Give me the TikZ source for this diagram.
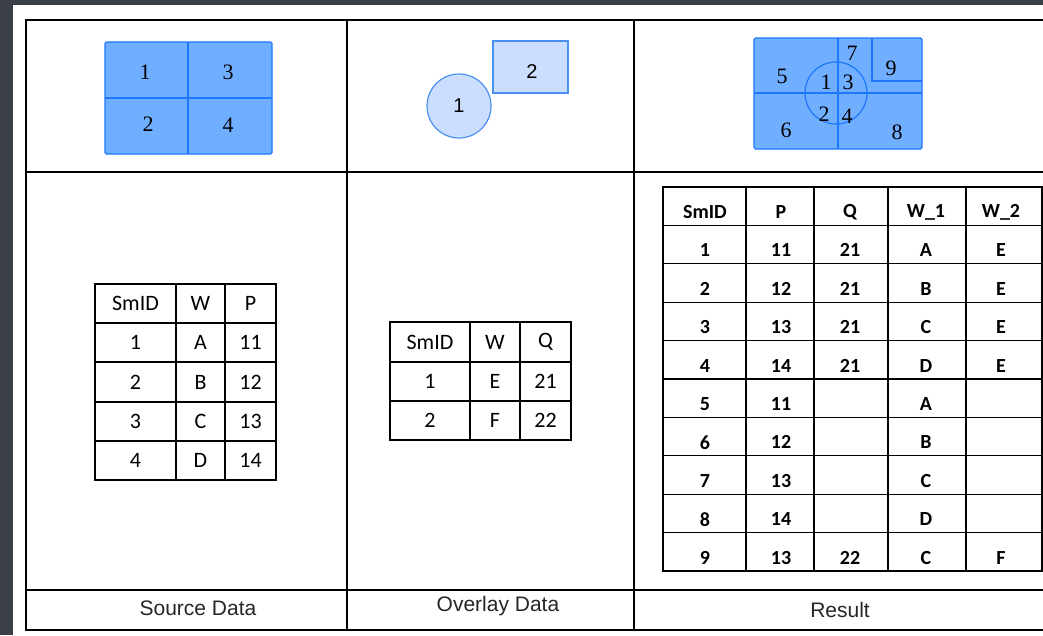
\documentclass[tikz,border=0pt]{standalone}
\usepackage{fontspec}
\newfontfamily\calfont{Carlito}
\newfontfamily\arifont{Liberation Sans}
\newfontfamily\serfont{Liberation Serif}
\definecolor{darkbg}{HTML}{3B3F47}
\definecolor{bfill}{HTML}{70AEFF}
\definecolor{bline}{HTML}{1E78FF}
\definecolor{lfill}{HTML}{CCDEFF}
\definecolor{lline}{HTML}{4A90F0}
\tikzset{
  frame/.style={line width=1.8pt, black},
  tbl/.style={line width=1.3pt, black},
  srctxt/.style={font=\calfont\fontsize{22}{24}\selectfont, inner sep=0pt, anchor=center},
  restxt/.style={font=\calfont\bfseries\fontsize{20}{22}\selectfont, inner sep=0pt, anchor=center},
  fignum/.style={font=\serfont\fontsize{22}{24}\selectfont, inner sep=0pt},
  ovnum/.style={font=\arifont\fontsize{20}{22}\selectfont, inner sep=0pt},
  caption/.style={font=\arifont\fontsize{21}{24}\selectfont, text=black!85, inner sep=0pt},
}
\begin{document}
\begin{tikzpicture}[x=1pt, y=-1pt]
\useasboundingbox (0,0) rectangle (1043,635);
% background
\fill[white] (0,0) rectangle (1043,635);
\fill[darkbg] (0,0) rectangle (1043,5);
\fill[darkbg] (0,0) rectangle (13,635);
% outer frame
\draw[frame] (1043,20) -- (26,20) -- (26,630) -- (1043,630);
\draw[frame] (26,172) -- (1043,172);
\draw[frame] (26,590) -- (1043,590);
\draw[frame] (347,20) -- (347,630);
\draw[frame] (634,20) -- (634,630);

% ---------- Source figure ----------
\draw[bline, fill=bfill, line width=1.2pt, rounded corners=1.5pt] (105,42) rectangle (272,154);
\draw[bline, line width=1.2pt] (188,42) -- (188,154);
\draw[bline, line width=1.2pt] (105,98) -- (272,98);
\node[fignum] (sf1) at (145,72) {1};
\node[fignum] (sf3) at (228,72) {3};
\node[fignum] (sf2) at (148,124) {2};
\node[fignum] (sf4) at (228,125) {4};

% ---------- Overlay figure ----------
\draw[lline, fill=lfill, line width=1.2pt] (459,106) circle (32);
\draw[lline, fill=lfill, line width=1.2pt] (493,41) rectangle (568,93);
\node[ovnum] (of1) at (459,106) {1};
\node[ovnum] (of2) at (532,72) {2};

% ---------- Result figure ----------
\draw[bline, fill=bfill, line width=1.2pt, rounded corners=1.5pt] (754,38) rectangle (922,149);
\draw[bline, line width=1.2pt] (838,38) -- (838,149);
\draw[bline, line width=1.2pt] (754,93) -- (922,93);
\draw[bline, line width=1.2pt] (872,38) -- (872,81) -- (922,81);
\draw[bline, line width=1.2pt] (836,93) circle (31);
\node[fignum] (rf5) at (782,76) {5};
\node[fignum] (rf7) at (852,53) {7};
\node[fignum] (rf9) at (891,68) {9};
\node[fignum] (rf1) at (826,82) {1};
\node[fignum] (rf3) at (848,82) {3};
\node[fignum] (rf2) at (824,114) {2};
\node[fignum] (rf4) at (847,116) {4};
\node[fignum] (rf6) at (786,130) {6};
\node[fignum] (rf8) at (897,132) {8};

% ---------- Source table ----------
\draw[tbl] (95,284) rectangle (276,480);
\foreach \yy in {323,362,402,441} \draw[tbl] (95,\yy) -- (276,\yy);
\foreach \xx in {176,225} \draw[tbl] (\xx,284) -- (\xx,480);
\foreach \yy/\a/\b/\c [count=\i] in {303.5/SmID/W/P, 342.5/1/A/11, 382/2/B/12, 421.5/3/C/13, 460.5/4/D/14} {
  \node[srctxt] (sa\i) at (135.5,\yy) {\a};
  \node[srctxt] (sb\i) at (200.5,\yy) {\b};
  \node[srctxt] (sc\i) at (250.5,\yy) {\c};
}

% ---------- Overlay table ----------
\draw[tbl] (390,322) rectangle (571,440);
\foreach \yy in {362,401} \draw[tbl] (390,\yy) -- (571,\yy);
\foreach \xx in {470,520} \draw[tbl] (\xx,322) -- (\xx,440);
\foreach \yy/\a/\b/\c [count=\i] in {342/SmID/W/Q, 381.5/1/E/21, 420.5/2/F/22} {
  \node[srctxt] (oa\i) at (430,\yy) {\a};
  \node[srctxt] (ob\i) at (495,\yy) {\b};
  \node[srctxt] (oc\i) at (545.5,\yy) {\c};
}

% ---------- Result table ----------
\draw[tbl] (663,187) rectangle (1042,571);
\foreach \k in {1,...,9} \draw[tbl] (663,187+38.4*\k) -- (1042,187+38.4*\k);
\foreach \xx in {746,814,888,966} \draw[tbl] (\xx,187) -- (\xx,571);
\foreach \a/\b/\c/\d/\e [count=\i from 0] in {SmID/P/Q/W\_1/W\_2, 1/11/21/A/E, 2/12/21/B/E, 3/13/21/C/E, 4/14/21/D/E, 5/11/{}/A/{}, 6/12/{}/B/{}, 7/13/{}/C/{}, 8/14/{}/D/{}, 9/13/22/C/F} {
  \pgfmathsetmacro\yy{187+38.4*\i+25}
  \node[restxt] (ra\i) at (705,\yy) {\a};
  \node[restxt] (rb\i) at (781,\yy) {\b};
  \node[restxt] (rc\i) at (850,\yy) {\c};
  \node[restxt] (rd\i) at (926,\yy) {\d};
  \node[restxt] (re\i) at (1001,\yy) {\e};
}

% ---------- Captions ----------
\node[caption] (cap1) at (198,608) {Source Data};
\node[caption] (cap2) at (498,606) {Overlay Data};
\node[caption] (cap3) at (840,610) {Result};
\end{tikzpicture}
\end{document}
